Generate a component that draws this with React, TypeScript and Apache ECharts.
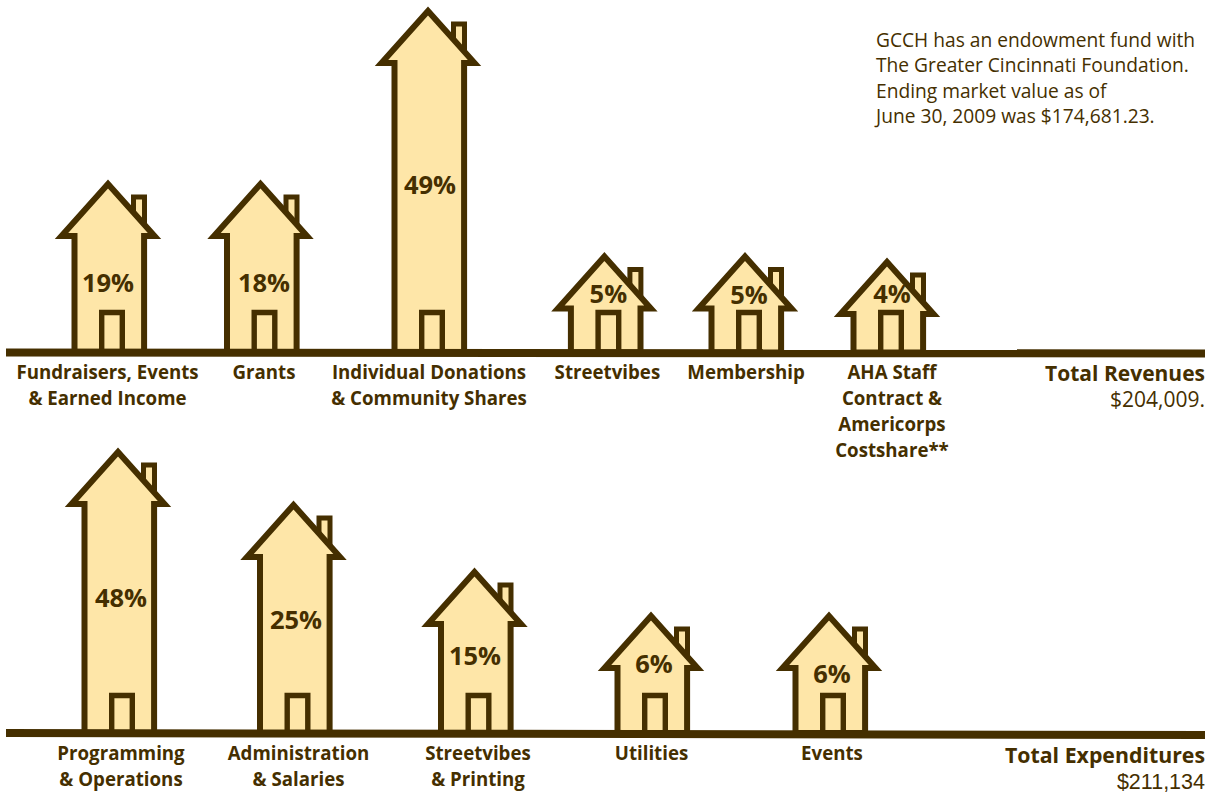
import React, { useEffect, useRef } from "react";
import * as echarts from "echarts";

// ---- data ----
const revenueCategories = [
  "Fundraisers, Events\n& Earned Income",
  "Grants",
  "Individual Donations\n& Community Shares",
  "Streetvibes",
  "Membership",
  "AHA Staff\nContract &\nAmericorps\nCostshare**",
];
const revenueShares = ["19%", "18%", "49%", "5%", "5%", "4%"];
const revenueHouseHeights = [173, 173, 346, 100.5, 100.5, 95];

const expenseCategories = [
  "Programming\n& Operations",
  "Administration\n& Salaries",
  "Streetvibes\n& Printing",
  "Utilities",
  "Events",
];
const expenseShares = ["48%", "25%", "15%", "6%", "6%"];
const expenseHouseHeights = [285.5, 232.5, 165.5, 121.5, 121.5];

const totalRevenuesLabel = "Total Revenues";
const totalRevenuesValue = "$204,009.";
const totalExpensesLabel = "Total Expenditures";
const totalExpensesValue = "$211,134";
const noteLines = [
  "GCCH has an endowment fund with",
  "The Greater Cincinnati Foundation.",
  "Ending market value as of",
  "June 30, 2009 was $174,681.23.",
];

// ---- layout and style ----
const INK = "#452f00";
const FILL = "#fee6a8";
const FONT = '"Open Sans", "Noto Sans", sans-serif';
const LINE_LEFT = 6;
const LINE_RIGHT = 1205;

const topPanel = {
  baseY: 352.5,
  firstX: 108,
  step: 155.8,
  shift: [0, -3.3, 8.4, 29, 13.8, 0],
  labelShift: [-0.5, 3.5, 1, 3, 1, 5],
  shareShift: [0, 3.5, 2, 4, 4, 5],
  shareLift: [71, 71, 169, 60, 59, 60],
  drift: [0, -1],
  labelY: 358,
  doorLift: 40,
};
const bottomPanel = {
  baseY: 733,
  firstX: 118,
  step: 177.75,
  shift: [0, -2.25, 1, -0.25, 0],
  labelShift: [3, 5, 3.5, 0.5, 3],
  shareShift: [3, 2.5, 0.5, 3, 3],
  shareLift: [136.5, 114.5, 78.5, 70, 60],
  drift: [0, -2],
  labelY: 739,
  doorLift: 37.5,
};

function panelParts(
  gridIndex: number,
  panel: typeof topPanel,
  categories: string[],
  shares: string[],
  heights: number[],
) {
  const grid = { left: LINE_LEFT, width: LINE_RIGHT - LINE_LEFT, top: 0, height: panel.baseY };
  const xAxis = {
    gridIndex,
    type: "value",
    min: (LINE_LEFT - panel.firstX) / panel.step,
    max: (LINE_RIGHT - panel.firstX) / panel.step,
    show: false,
    splitLine: { show: false },
  };
  const yAxis = {
    gridIndex,
    type: "value",
    min: 0,
    max: panel.baseY,
    show: false,
    splitLine: { show: false },
  };
  const houses = {
    type: "custom",
    xAxisIndex: gridIndex,
    yAxisIndex: gridIndex,
    clip: false,
    z: 2,
    data: heights.map((h, i) => [i, h]),
    renderItem: (params: any, api: any) => {
      const i = api.value(0);
      const top = api.coord([i, api.value(1)]);
      const base = api.coord([i, 0]);
      const cx = top[0] + panel.shift[i];
      const baseY = base[1];
      const apexY = top[1] + 4.5;
      const eaveY = apexY + 52;
      const wallL = cx + 1.3 - 34.8;
      const wallR = cx + 1.3 + 34.8;
      const doorC = cx + 4;
      const doorTop = baseY - panel.doorLift;
      const stroke = { stroke: INK, lineWidth: 6, lineJoin: "miter", miterLimit: 10, fill: FILL };
      const chimTop = apexY + 13;
      return {
        type: "group",
        children: [
          {
            type: "polygon",
            shape: {
              points: [
                [cx + 25.5, eaveY],
                [cx + 25.5, chimTop],
                [cx + 36.5, chimTop],
                [cx + 36.5, eaveY],
              ],
            },
            style: { ...stroke, lineWidth: 5 },
          },
          {
            type: "polygon",
            shape: {
              points: [
                [wallL, baseY],
                [wallL, eaveY],
                [cx - 46.5, eaveY],
                [cx, apexY],
                [cx + 46.5, eaveY],
                [wallR, eaveY],
                [wallR, baseY],
              ],
            },
            style: stroke,
          },
          {
            type: "polyline",
            shape: {
              points: [
                [doorC - 10.3, baseY],
                [doorC - 10.3, doorTop],
                [doorC + 10.3, doorTop],
                [doorC + 10.3, baseY],
              ],
            },
            style: { stroke: INK, lineWidth: 5.4, fill: null, lineJoin: "miter" },
          },
          {
            type: "text",
            style: {
              text: shares[i],
              x: cx + panel.shareShift[i],
              y: baseY - panel.shareLift[i],
              textAlign: "center",
              textVerticalAlign: "middle",
              fill: INK,
              fontFamily: FONT,
              fontWeight: 700,
              fontSize: 25.5,
            },
          },
          {
            type: "text",
            style: {
              text: categories[i],
              x: cx + panel.labelShift[i],
              y: panel.labelY,
              textAlign: "center",
              textVerticalAlign: "top",
              fill: INK,
              fontFamily: FONT,
              fontWeight: 700,
              fontSize: 18.7,
              lineHeight: 26,
            },
          },
        ],
      };
    },
  };
  const baseline = {
    type: "line",
    xAxisIndex: gridIndex,
    yAxisIndex: gridIndex,
    clip: false,
    z: 3,
    symbol: "none",
    silent: true,
    lineStyle: { color: INK, width: 8, cap: "butt" },
    data: [
      [xAxis.min, panel.drift[0]],
      [xAxis.max, panel.drift[1]],
    ],
  };
  return { grid, xAxis, yAxis, series: [houses, baseline] };
}

function rightText(text: string, y: number, weight: number, size: number, family = FONT) {
  return {
    type: "text",
    x: LINE_RIGHT,
    y,
    style: {
      text,
      textAlign: "right",
      textVerticalAlign: "middle",
      fill: INK,
      fontFamily: family,
      fontWeight: weight,
      fontSize: size,
    },
  };
}

export default function App() {
  const ref = useRef<HTMLDivElement>(null);
  useEffect(() => {
    document.body.style.margin = "0";
    const chart = echarts.init(ref.current!, undefined, { renderer: "svg" });
    const a = panelParts(0, topPanel, revenueCategories, revenueShares, revenueHouseHeights);
    const b = panelParts(1, bottomPanel, expenseCategories, expenseShares, expenseHouseHeights);
    chart.setOption({
      animation: false,
      backgroundColor: "#ffffff",
      grid: [a.grid, b.grid],
      xAxis: [a.xAxis, b.xAxis],
      yAxis: [a.yAxis, b.yAxis],
      series: [...a.series, ...b.series],
      graphic: [
        ...noteLines.map((line, i) => ({
          type: "text",
          x: 876,
          y: 39 + i * 25.5,
          style: {
            text: line,
            textAlign: "left",
            textVerticalAlign: "middle",
            fill: INK,
            fontFamily: FONT,
            fontWeight: 400,
            fontSize: 19.2,
          },
        })),
        rightText(totalRevenuesLabel, 373, 700, 21),
        rightText(totalRevenuesValue, 399, 400, 21),
        rightText(totalExpensesLabel, 754.5, 700, 21.3),
        rightText(totalExpensesValue, 781.5, 400, 21.5, '"Liberation Sans", sans-serif'),
      ],
    });
    return () => chart.dispose();
  }, []);
  return <div ref={ref} style={{ width: 1211, height: 794 }} />;
}
